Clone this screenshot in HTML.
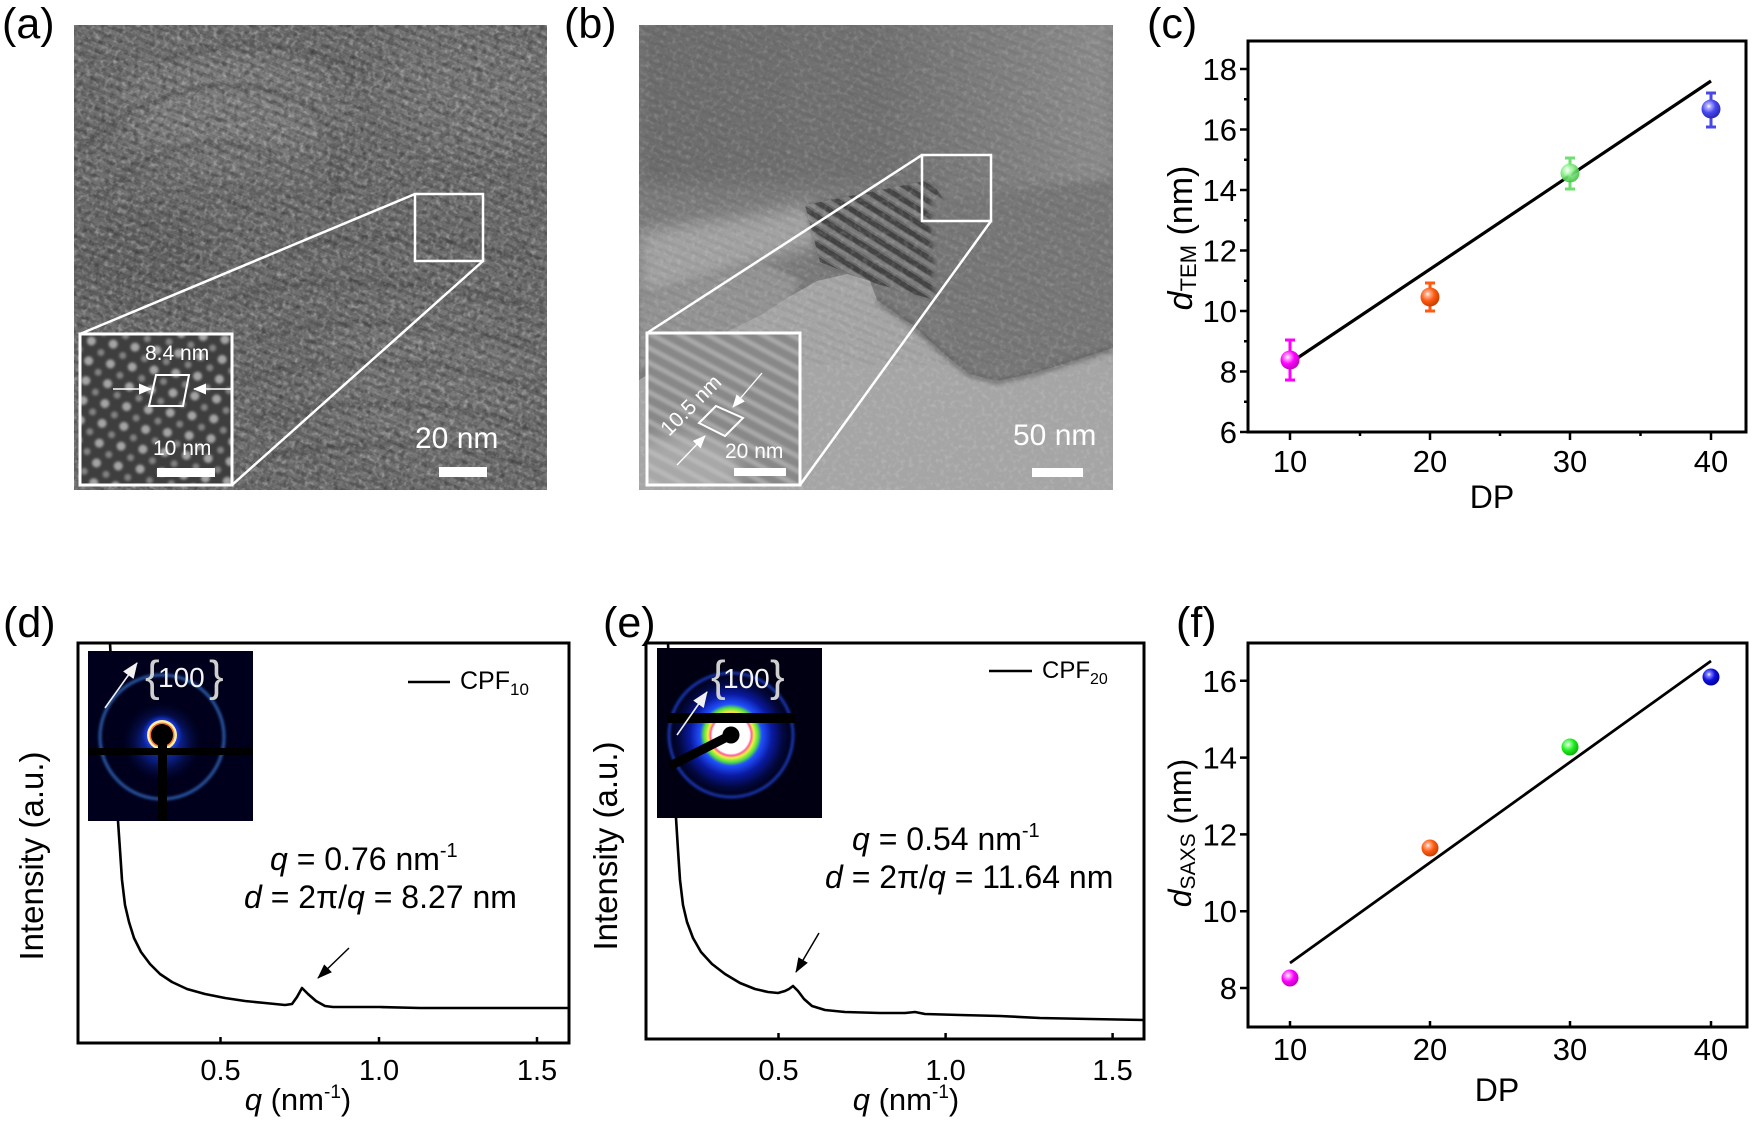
<!DOCTYPE html>
<html><head><meta charset="utf-8">
<style>
html,body{margin:0;padding:0;background:#fff;}
svg{display:block;}
text{font-family:"Liberation Sans",Arial,sans-serif;}
</style></head><body>
<svg width="1752" height="1122" viewBox="0 0 1752 1122" xmlns="http://www.w3.org/2000/svg">
<defs>
 <filter id="nz" x="0" y="0" width="100%" height="100%">
  <feTurbulence type="fractalNoise" baseFrequency="0.22" numOctaves="2" seed="7"/>
  <feColorMatrix type="matrix" values="0 0 0 0 1  0 0 0 0 1  0 0 0 0 1  1.6 0 0 0 -0.75"/>
 </filter>
 <filter id="nzd" x="0" y="0" width="100%" height="100%">
  <feTurbulence type="fractalNoise" baseFrequency="0.18" numOctaves="2" seed="11"/>
  <feColorMatrix type="matrix" values="0 0 0 0 0  0 0 0 0 0  0 0 0 0 0  1.6 0 0 0 -0.7"/>
 </filter>
 <filter id="bl20"><feGaussianBlur stdDeviation="20"/></filter>
 <filter id="bl8"><feGaussianBlur stdDeviation="8"/></filter>
 <filter id="bl3"><feGaussianBlur stdDeviation="3"/></filter>
 <filter id="bl1"><feGaussianBlur stdDeviation="1.2"/></filter>
 <filter id="bl2"><feGaussianBlur stdDeviation="2"/></filter>
 <pattern id="stA" width="9" height="9" patternUnits="userSpaceOnUse" patternTransform="rotate(22)">
  <rect width="9" height="3.5" fill="#000" opacity="0.13"/>
 </pattern>
 <pattern id="stB" width="12" height="12" patternUnits="userSpaceOnUse" patternTransform="rotate(32)">
  <rect width="12" height="5" fill="#000" opacity="0.35"/><rect y="6" width="12" height="4" fill="#fff" opacity="0.15"/>
 </pattern>
 <pattern id="stI" width="13" height="13" patternUnits="userSpaceOnUse" patternTransform="rotate(28)">
  <rect width="13" height="5" fill="#fff" opacity="0.28"/>
 </pattern>
 <pattern id="dotA" width="22" height="20" patternUnits="userSpaceOnUse" patternTransform="rotate(8)">
  <circle cx="6" cy="5" r="4.5" fill="#c8c8c8"/><circle cx="17" cy="15" r="3.5" fill="#9a9a9a"/>
 </pattern>
 <linearGradient id="topB" x1="0" y1="0" x2="1" y2="0">
  <stop offset="0" stop-color="#6c6c6c"/><stop offset="0.5" stop-color="#707070"/><stop offset="1" stop-color="#8c8c8c"/>
 </linearGradient>
 <radialGradient id="saxsE" cx="0.5" cy="0.5" r="0.5">
  <stop offset="0" stop-color="#ffffff"/><stop offset="0.3" stop-color="#ffffff"/>
  <stop offset="0.33" stop-color="#ff5a9a"/><stop offset="0.37" stop-color="#f4f040"/>
  <stop offset="0.44" stop-color="#50e040"/><stop offset="0.5" stop-color="#2050ff"/>
  <stop offset="0.66" stop-color="#0a1aa0"/><stop offset="0.84" stop-color="#020840"/>
  <stop offset="1" stop-color="#000010"/>
 </radialGradient>
 <radialGradient id="glowD" cx="0.5" cy="0.5" r="0.5">
  <stop offset="0" stop-color="#3060ff" stop-opacity="1"/><stop offset="0.5" stop-color="#1030c0" stop-opacity="0.7"/>
  <stop offset="1" stop-color="#000020" stop-opacity="0"/>
 </radialGradient>
 <radialGradient id="gM" cx="0.38" cy="0.35" r="0.65"><stop offset="0" stop-color="#fff"/><stop offset="0.18" stop-color="#ffa0ff"/><stop offset="0.55" stop-color="#ff00ff"/><stop offset="1" stop-color="#c000c0"/></radialGradient>
 <radialGradient id="gO" cx="0.38" cy="0.35" r="0.65"><stop offset="0" stop-color="#fff"/><stop offset="0.18" stop-color="#ffb090"/><stop offset="0.55" stop-color="#ff5a10"/><stop offset="1" stop-color="#c84000"/></radialGradient>
 <radialGradient id="gG1" cx="0.38" cy="0.35" r="0.65"><stop offset="0" stop-color="#fff"/><stop offset="0.18" stop-color="#d0ffd0"/><stop offset="0.55" stop-color="#78e878"/><stop offset="1" stop-color="#48c048"/></radialGradient>
 <radialGradient id="gB1" cx="0.38" cy="0.35" r="0.65"><stop offset="0" stop-color="#fff"/><stop offset="0.18" stop-color="#b0b0ff"/><stop offset="0.55" stop-color="#4848ee"/><stop offset="1" stop-color="#2a2ab8"/></radialGradient>
 <radialGradient id="gG2" cx="0.38" cy="0.35" r="0.65"><stop offset="0" stop-color="#fff"/><stop offset="0.18" stop-color="#a0ffa0"/><stop offset="0.55" stop-color="#20ee20"/><stop offset="1" stop-color="#10b010"/></radialGradient>
 <radialGradient id="gB2" cx="0.38" cy="0.35" r="0.65"><stop offset="0" stop-color="#fff"/><stop offset="0.18" stop-color="#8080ff"/><stop offset="0.55" stop-color="#1010e0"/><stop offset="1" stop-color="#00009c"/></radialGradient>
 <marker id="ahK" markerWidth="15" markerHeight="11" refX="14" refY="5.5" orient="auto" markerUnits="userSpaceOnUse"><path d="M0,0 L15,5.5 L0,11 z" fill="#000"/></marker>
 <marker id="ahW" markerWidth="13" markerHeight="11" refX="12" refY="5.5" orient="auto" markerUnits="userSpaceOnUse"><path d="M0,0 L13,5.5 L0,11 z" fill="#fff"/></marker>
 <marker id="ahL" markerWidth="16" markerHeight="13" refX="15" refY="6.5" orient="auto" markerUnits="userSpaceOnUse"><path d="M0,0 L16,6.5 L0,13 z" fill="#f2f2f2"/></marker>
 <clipPath id="ca"><rect x="74" y="25" width="473" height="465"/></clipPath>
 <clipPath id="cb"><rect x="639" y="25" width="474" height="465"/></clipPath>
 <clipPath id="cai"><rect x="80" y="334" width="152" height="151"/></clipPath>
 <clipPath id="cbi"><rect x="647" y="333" width="153" height="152"/></clipPath>
 <clipPath id="cd"><rect x="88" y="651" width="165" height="170"/></clipPath>
 <clipPath id="ce"><rect x="657" y="648" width="165" height="170"/></clipPath>
</defs>

<rect width="1752" height="1122" fill="#fff"/>

<!-- panel letters -->
<g font-size="43" fill="#000">
 <text x="2" y="38">(a)</text>
 <text x="564" y="38">(b)</text>
 <text x="1147" y="38">(c)</text>
 <text x="3" y="637">(d)</text>
 <text x="603" y="637">(e)</text>
 <text x="1176" y="637">(f)</text>
</g>

<!-- ===== (a) TEM ===== -->
<g clip-path="url(#ca)">
 <rect x="74" y="25" width="473" height="465" fill="#707070"/>
 <ellipse cx="230" cy="110" rx="110" ry="60" fill="#808080" filter="url(#bl20)"/>
 <ellipse cx="470" cy="90" rx="90" ry="60" fill="#7a7a7a" filter="url(#bl20)"/>
 <ellipse cx="140" cy="260" rx="70" ry="50" fill="#666" filter="url(#bl20)"/>
 <ellipse cx="430" cy="380" rx="110" ry="80" fill="#787878" filter="url(#bl20)"/>
 <g fill="none" stroke="#555" stroke-width="5" opacity="0.55" filter="url(#bl2)">
  <path d="M80,150 C140,90 230,70 300,100 C330,115 350,160 330,210"/>
  <path d="M100,200 C150,140 230,130 280,160"/>
  <path d="M160,60 C220,40 300,40 360,70"/>
  <path d="M260,260 C330,230 420,230 540,260"/>
  <path d="M230,300 C320,270 430,280 540,310"/>
  <path d="M250,340 C340,310 440,320 540,350"/>
  <path d="M240,380 C330,350 450,360 540,390"/>
  <path d="M250,420 C340,395 450,400 540,430"/>
  <path d="M260,460 C350,435 460,440 540,470"/>
 </g>
 <rect x="74" y="25" width="473" height="465" fill="url(#stA)"/>
 <rect x="74" y="25" width="473" height="465" filter="url(#nz)" opacity="0.5"/>
 <rect x="74" y="25" width="473" height="465" filter="url(#nzd)" opacity="0.4"/>
</g>
<!-- (a) inset -->
<g clip-path="url(#cai)">
 <rect x="80" y="334" width="152" height="151" fill="#3e3e3e"/>
 <rect x="80" y="334" width="152" height="151" fill="url(#dotA)" filter="url(#bl1)" opacity="0.75"/>
</g>
<g fill="none" stroke="#fff">
 <rect x="80" y="334" width="152" height="151" stroke-width="3"/>
 <rect x="415" y="194" width="68" height="67" stroke-width="2.5"/>
 <line x1="80" y1="334" x2="415" y2="194" stroke-width="2.5"/>
 <line x1="232" y1="485" x2="483" y2="261" stroke-width="2.5"/>
 <polygon points="156,375 189,375 183,406 149,406" stroke-width="2"/>
 <line x1="113" y1="389" x2="151" y2="389" stroke-width="1.5" marker-end="url(#ahW)"/>
 <line x1="232" y1="389" x2="194" y2="389" stroke-width="1.5" marker-end="url(#ahW)"/>
</g>
<g fill="#fff">
 <text x="145" y="360" font-size="21">8.4 nm</text>
 <text x="153" y="455" font-size="21">10 nm</text>
 <rect x="157" y="468" width="58" height="9"/>
 <text x="415" y="448" font-size="30">20 nm</text>
 <rect x="439" y="467" width="48" height="10"/>
</g>

<!-- ===== (b) TEM ===== -->
<g clip-path="url(#cb)">
 <rect x="639" y="25" width="474" height="465" fill="#7b7b7b"/>
 <rect x="639" y="15" width="474" height="170" fill="url(#topB)" filter="url(#bl8)"/>
 <polygon points="639,232 700,222 760,214 817,204 830,240 760,262 700,282 639,298" fill="#a2a2a2" filter="url(#bl8)"/>
 <polygon points="639,298 700,282 760,262 800,280 780,320 700,340 639,370" fill="#939393" filter="url(#bl3)"/>
 <polygon points="805,205 930,180 965,230 935,300 870,282 820,262" fill="#686868" filter="url(#bl3)"/>
 <polygon points="805,205 930,180 965,230 935,300 870,282 820,262" fill="url(#stB)"/>
 <polygon points="930,200 1113,180 1113,345 1063,360 1030,372 997,378 960,365 935,300" fill="#777" filter="url(#bl3)"/>
 <polygon points="639,490 639,380 690,350 730,330 763,314 787,298 817,281 847,274 870,281 877,300 897,314 917,328 930,341 953,361 970,374 997,381 1030,374 1063,364 1113,348 1113,490" fill="#a5a5a5"/>
 <polyline points="877,300 897,314 917,328 930,341 953,361 970,374 997,381 1030,374 1063,364 1113,348" fill="none" stroke="#5e5e5e" stroke-width="7" opacity="0.6" filter="url(#bl2)"/>
 <rect x="639" y="25" width="474" height="340" fill="url(#stA)" opacity="0.35"/>
 <rect x="639" y="25" width="474" height="465" filter="url(#nz)" opacity="0.25"/>
</g>
<!-- (b) inset -->
<g clip-path="url(#cbi)">
 <rect x="647" y="333" width="153" height="152" fill="#888"/>
 <rect x="647" y="333" width="153" height="152" fill="url(#stI)" filter="url(#bl1)"/>
 <ellipse cx="680" cy="470" rx="60" ry="35" fill="#c8c8c8" opacity="0.5" filter="url(#bl8)"/>
</g>
<g fill="none" stroke="#fff">
 <rect x="647" y="333" width="153" height="152" stroke-width="3"/>
 <rect x="922" y="155" width="69" height="66" stroke-width="2.5"/>
 <line x1="647" y1="333" x2="922" y2="155" stroke-width="2.5"/>
 <line x1="800" y1="485" x2="991" y2="221" stroke-width="2.5"/>
 <polygon points="716,406 743,418 725,436 699,423" stroke-width="2"/>
 <line x1="762" y1="373" x2="733" y2="407" stroke-width="1.3" marker-end="url(#ahW)"/>
 <line x1="677" y1="465" x2="705" y2="436" stroke-width="1.3" marker-end="url(#ahW)"/>
</g>
<g fill="#fff">
 <text transform="translate(669,437) rotate(-45)" font-size="21">10.5 nm</text>
 <text x="725" y="458" font-size="21">20 nm</text>
 <rect x="734" y="468" width="52" height="8"/>
 <text x="1013" y="445" font-size="30">50 nm</text>
 <rect x="1032" y="468" width="51" height="9"/>
</g>

<!-- ===== (c) ===== -->
<g>
 <line x1="1290" y1="363" x2="1711" y2="81" stroke="#000" stroke-width="3.2"/>
 <g stroke-width="3" fill="none">
  <path d="M1290 340V380 M1285 340H1295 M1285 380H1295" stroke="#ff00ff"/>
  <path d="M1430 283V311 M1425 283H1435 M1425 311H1435" stroke="#ff5a10"/>
  <path d="M1570 158V189 M1565 158H1575 M1565 189H1575" stroke="#6fe06f"/>
  <path d="M1711 93V127 M1706 93H1716 M1706 127H1716" stroke="#4848e8"/>
 </g>
 <circle cx="1290" cy="360" r="9.5" fill="url(#gM)"/>
 <circle cx="1430" cy="297" r="9.5" fill="url(#gO)"/>
 <circle cx="1570" cy="173" r="9.5" fill="url(#gG1)" opacity="0.9"/>
 <circle cx="1711" cy="109" r="9.5" fill="url(#gB1)"/>
 <rect x="1248" y="41" width="498" height="391" fill="none" stroke="#000" stroke-width="3"/>
 <path d="M1240 432H1248 M1240 371.5H1248 M1240 311H1248 M1240 250.5H1248 M1240 190H1248 M1240 129.5H1248 M1240 69H1248 M1244 401.75H1248 M1244 341.25H1248 M1244 280.75H1248 M1244 220.25H1248 M1244 159.75H1248 M1244 99.25H1248 M1290 432V440 M1430 432V440 M1570 432V440 M1711 432V440 M1360 432V436 M1500 432V436 M1640.5 432V436" stroke="#000" stroke-width="2.5"/>
 <g font-size="31" text-anchor="end">
  <text x="1237" y="443">6</text><text x="1237" y="382.5">8</text><text x="1237" y="322">10</text>
  <text x="1237" y="261.5">12</text><text x="1237" y="201">14</text><text x="1237" y="140.5">16</text><text x="1237" y="80">18</text>
 </g>
 <g font-size="31" text-anchor="middle">
  <text x="1290" y="472">10</text><text x="1430" y="472">20</text><text x="1570" y="472">30</text><text x="1711" y="472">40</text>
  <text x="1492" y="508" font-size="32">DP</text>
 </g>
 <text transform="translate(1192,238) rotate(-90)" text-anchor="middle" font-size="34"><tspan font-style="italic">d</tspan><tspan font-size="22" dy="4">TEM</tspan><tspan dy="-4"> (nm)</tspan></text>
</g>

<!-- ===== (f) ===== -->
<g>
 <line x1="1290" y1="963" x2="1711" y2="661" stroke="#000" stroke-width="2.8"/>
 <circle cx="1290" cy="978" r="8.5" fill="url(#gM)"/>
 <circle cx="1430" cy="848" r="8.5" fill="url(#gO)"/>
 <circle cx="1570" cy="747" r="8.5" fill="url(#gG2)"/>
 <circle cx="1711" cy="677" r="8.5" fill="url(#gB2)"/>
 <rect x="1248" y="643" width="499" height="384" fill="none" stroke="#000" stroke-width="3"/>
 <path d="M1240 988H1248 M1240 911.2H1248 M1240 834.4H1248 M1240 757.6H1248 M1240 680.8H1248 M1290 1027V1021 M1430 1027V1021 M1570 1027V1021 M1711 1027V1021" stroke="#000" stroke-width="2.5"/>
 <g font-size="31" text-anchor="end">
  <text x="1237" y="999">8</text><text x="1237" y="922.2">10</text><text x="1237" y="845.4">12</text>
  <text x="1237" y="768.6">14</text><text x="1237" y="691.8">16</text>
 </g>
 <g font-size="31" text-anchor="middle">
  <text x="1290" y="1060">10</text><text x="1430" y="1060">20</text><text x="1570" y="1060">30</text><text x="1711" y="1060">40</text>
  <text x="1497" y="1101" font-size="32">DP</text>
 </g>
 <text transform="translate(1191,833) rotate(-90)" text-anchor="middle" font-size="32"><tspan font-style="italic">d</tspan><tspan font-size="21" dy="4">SAXS</tspan><tspan dy="-4"> (nm)</tspan></text>
</g>

<!-- ===== (d) ===== -->
<g>
 <polyline fill="none" stroke="#000" stroke-width="2.6" stroke-linejoin="round" points="110,643 113,700 116,780 118,821 120,850 122,880 125,905 129,922 134,938 141,952 150,964 160,974 172,982 187,989 205,994 225,998 245,1001 265,1003 285,1005 292,1004 297,997 302,988 308,994 316,1001 325,1006 333,1007 380,1007 420,1008 569,1008"/>
 <g clip-path="url(#cd)">
  <rect x="88" y="651" width="165" height="170" fill="#00001c"/>
  <circle cx="162" cy="742" r="42" fill="url(#glowD)" opacity="0.8"/>
  <circle cx="162" cy="737" r="62" fill="none" stroke="#2a5aa8" stroke-width="3" filter="url(#bl1)"/>
  <circle cx="162" cy="735" r="17" fill="#1a40ff" filter="url(#bl2)"/>
  <circle cx="162" cy="735" r="15" fill="#fff0a0"/>
  <circle cx="162" cy="735" r="12.5" fill="#ff7030"/>
  <circle cx="162" cy="735" r="11" fill="#000"/>
  <rect x="88" y="748" width="165" height="7" fill="#000"/>
  <rect x="158" y="740" width="9" height="81" fill="#000"/>
  <line x1="105" y1="708" x2="137" y2="663" stroke="#f0f0f0" stroke-width="1.6" marker-end="url(#ahL)"/>
  <text x="145" y="691" font-size="44" fill="#cfcfcf">{</text>
  <text x="158" y="687" font-size="28" fill="#f4f4f4">100</text>
  <text x="209" y="691" font-size="44" fill="#cfcfcf">}</text>
 </g>
 <rect x="78" y="643" width="491" height="400" fill="none" stroke="#000" stroke-width="3"/>
 <path d="M220.5 1043V1037 M379 1043V1037 M537 1043V1037" stroke="#000" stroke-width="2.5"/>
 <g font-size="29" text-anchor="middle">
  <text x="220.5" y="1080">0.5</text><text x="379" y="1080">1.0</text><text x="537" y="1080">1.5</text>
 </g>
 <text x="298" y="1110" font-size="31" text-anchor="middle"><tspan font-style="italic">q</tspan> (nm<tspan font-size="19" dy="-12">-1</tspan><tspan dy="12">)</tspan></text>
 <text transform="translate(43,856) rotate(-90)" text-anchor="middle" font-size="33">Intensity (a.u.)</text>
 <line x1="408" y1="682" x2="450" y2="682" stroke="#000" stroke-width="2.5"/>
 <text x="460" y="689" font-size="25">CPF<tspan font-size="17" dy="6">10</tspan></text>
 <text x="270" y="870" font-size="32"><tspan font-style="italic">q</tspan> = 0.76 nm<tspan font-size="20" dy="-13">-1</tspan></text>
 <text x="244" y="908" font-size="32"><tspan font-style="italic">d</tspan> = 2π/<tspan font-style="italic">q</tspan> = 8.27 nm</text>
 <line x1="349" y1="948" x2="318" y2="978" stroke="#000" stroke-width="1.5" marker-end="url(#ahK)"/>
</g>

<!-- ===== (e) ===== -->
<g>
 <polyline fill="none" stroke="#000" stroke-width="2.6" stroke-linejoin="round" points="668,643 673,760 676,818 678,850 680,880 683,905 687,922 693,938 701,952 712,964 725,974 740,983 755,989 768,992 778,993 785,991 789,989 793,986 798,991 804,999 812,1006 825,1010 845,1012 880,1013 905,1013 915,1012 925,1014 960,1015 1000,1016 1040,1018 1090,1019 1144,1020"/>
 <g clip-path="url(#ce)">
  <rect x="657" y="648" width="165" height="170" fill="#000012"/>
  <circle cx="731" cy="735" r="62" fill="url(#saxsE)"/>
  <circle cx="731" cy="735" r="62" fill="none" stroke="#1f3fd0" stroke-width="2.5" filter="url(#bl1)"/>
  <rect x="667" y="713" width="128" height="10" fill="#000"/>
  <line x1="731" y1="735" x2="670" y2="766" stroke="#000" stroke-width="9"/>
  <circle cx="731" cy="735" r="8.5" fill="#000"/>
  <line x1="677" y1="735" x2="707" y2="692" stroke="#f0f0f0" stroke-width="1.6" marker-end="url(#ahL)"/>
  <text x="711" y="691" font-size="44" fill="#cfcfcf">{</text>
  <text x="723" y="688" font-size="28" fill="#f4f4f4">100</text>
  <text x="770" y="691" font-size="44" fill="#cfcfcf">}</text>
 </g>
 <rect x="646" y="643" width="498" height="396" fill="none" stroke="#000" stroke-width="3"/>
 <path d="M778.5 1039V1033 M945.6 1039V1033 M1112.6 1039V1033" stroke="#000" stroke-width="2.5"/>
 <g font-size="29" text-anchor="middle">
  <text x="778.5" y="1080">0.5</text><text x="945.6" y="1080">1.0</text><text x="1112.6" y="1080">1.5</text>
 </g>
 <text x="906" y="1110" font-size="31" text-anchor="middle"><tspan font-style="italic">q</tspan> (nm<tspan font-size="19" dy="-12">-1</tspan><tspan dy="12">)</tspan></text>
 <text transform="translate(617,846) rotate(-90)" text-anchor="middle" font-size="33">Intensity (a.u.)</text>
 <line x1="989" y1="671" x2="1032" y2="671" stroke="#000" stroke-width="2.5"/>
 <text x="1042" y="678" font-size="24">CPF<tspan font-size="16" dy="6">20</tspan></text>
 <text x="852" y="850" font-size="32"><tspan font-style="italic">q</tspan> = 0.54 nm<tspan font-size="20" dy="-13">-1</tspan></text>
 <text x="825" y="888" font-size="32"><tspan font-style="italic">d</tspan> = 2π/<tspan font-style="italic">q</tspan> = 11.64 nm</text>
 <line x1="819" y1="933" x2="796" y2="972" stroke="#000" stroke-width="1.5" marker-end="url(#ahK)"/>
</g>
</svg>
</body></html>
